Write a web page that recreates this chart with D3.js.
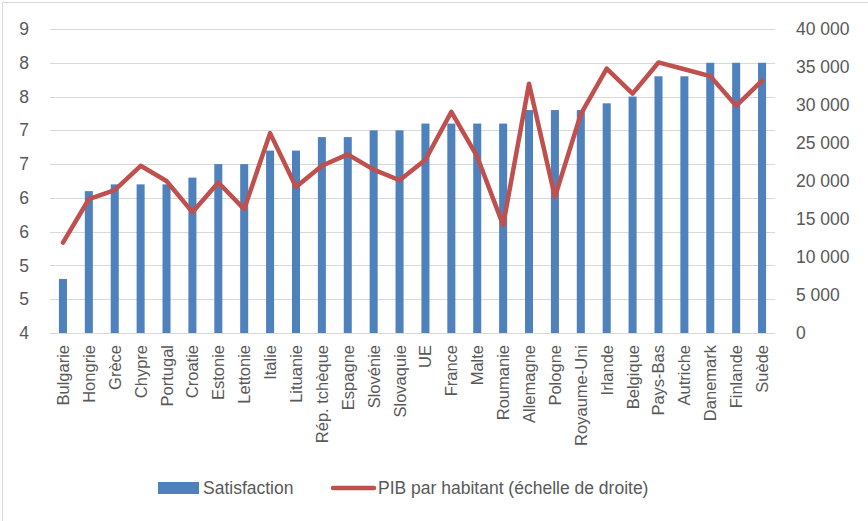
<!DOCTYPE html>
<html><head><meta charset="utf-8">
<script src="https://cdn.jsdelivr.net/npm/d3@7"></script>
<style>body{margin:0;background:#fff}svg{display:block}</style>
</head><body>
<svg id="c" width="868" height="521"></svg>
<script>
const categories = ["Bulgarie","Hongrie","Grèce","Chypre","Portugal","Croatie","Estonie","Lettonie","Italie","Lituanie","Rép. tchèque","Espagne","Slovénie","Slovaquie","UE","France","Malte","Roumanie","Allemagne","Pologne","Royaume-Uni","Irlande","Belgique","Pays-Bas","Autriche","Danemark","Finlande","Suède"];
const satisfaction = [4.8,6.1,6.2,6.2,6.2,6.3,6.5,6.5,6.7,6.7,6.9,6.9,7.0,7.0,7.1,7.1,7.1,7.1,7.3,7.3,7.3,7.4,7.5,7.8,7.8,8.0,8.0,8.0];
const pib = [11900,17600,18800,22000,20000,15900,19800,16300,26300,19200,22000,23500,21500,20100,22800,29100,23200,14200,32800,17900,28800,34800,31500,35600,34700,33800,29900,33200];
const leftTicks = [4,4.5,5,5.5,6,6.5,7,7.5,8,8.5];
const rightTicks = [0,5000,10000,15000,20000,25000,30000,35000,40000];
const seriesNames = ["Satisfaction","PIB par habitant (échelle de droite)"];

const svg = d3.select("#c");
const font = "'Liberation Sans', Arial, sans-serif";
const textCol = "#595959";
const L = 50, R = 775, T = 29, B = 333;

svg.append("rect").attr("x",2.5).attr("y",2.5).attr("width",900).attr("height",600)
  .attr("fill","none").attr("stroke","#d9d9d9").attr("stroke-width",1);

const x = d3.scaleBand().domain(categories).range([L,R]).paddingInner(0.69).paddingOuter(0.345);
const yL = d3.scaleLinear().domain([4,8.5]).range([B,T]);
const yR = d3.scaleLinear().domain([0,40000]).range([B,T]);

// gridlines
svg.append("g").selectAll("line").data(leftTicks).join("line")
  .attr("x1",L).attr("x2",R).attr("y1",d=>Math.round(yL(d))+0.5).attr("y2",d=>Math.round(yL(d))+0.5)
  .attr("stroke","#d9d9d9").attr("stroke-width",1);

// bars
svg.append("g").selectAll("rect").data(categories).join("rect")
  .attr("x",d=>x(d)).attr("width",x.bandwidth())
  .attr("y",(d,i)=>yL(satisfaction[i])).attr("height",(d,i)=>B-yL(satisfaction[i]))
  .attr("fill","#4f81bd");

// line
const line = d3.line().x((d,i)=>x(categories[i])+x.bandwidth()/2).y(d=>yR(d));
svg.append("path").datum(pib).attr("d",line).attr("fill","none")
  .attr("stroke","#c0504d").attr("stroke-width",4.5).attr("stroke-linejoin","round").attr("stroke-linecap","round");

// left axis
const fmtL = d => String(Math.floor(d+0.5));
const gL = svg.append("g").attr("transform",`translate(${L},0)`)
  .call(d3.axisLeft(yL).tickValues(leftTicks).tickFormat(fmtL).tickSize(0).tickPadding(21));
gL.select(".domain").remove();
gL.selectAll("text").attr("font-family",font).attr("font-size",17.5).attr("fill",textCol);

// right axis
const fmtR = d => d3.format(",")(d).replace(/,/g," ");
const gR = svg.append("g").attr("transform",`translate(${R},0)`)
  .call(d3.axisRight(yR).tickValues(rightTicks).tickFormat(fmtR).tickSize(0).tickPadding(21));
gR.select(".domain").remove();
gR.selectAll("text").attr("font-family",font).attr("font-size",17.5).attr("fill",textCol);

// bottom axis
const gB = svg.append("g").attr("transform",`translate(0,${B})`)
  .call(d3.axisBottom(x).tickSize(0).tickPadding(0));
gB.select(".domain").attr("stroke","#d9d9d9").attr("d",`M${L},0.5H${R}`);
gB.selectAll("text").attr("font-family",font).attr("font-size",16.5).attr("fill",textCol)
  .attr("text-anchor","end").attr("dy",null)
  .attr("transform","translate(6,12) rotate(-90)");

// legend
const lg = svg.append("g");
lg.append("rect").attr("x",158).attr("y",482).attr("width",41).attr("height",12).attr("fill","#4f81bd");
lg.append("text").attr("x",203).attr("y",494).text(seriesNames[0])
  .attr("font-family",font).attr("font-size",17.5).attr("fill",textCol);
lg.append("line").attr("x1",333).attr("x2",374).attr("y1",488).attr("y2",488)
  .attr("stroke","#c0504d").attr("stroke-width",4.5).attr("stroke-linecap","round");
lg.append("text").attr("x",378).attr("y",494).text(seriesNames[1])
  .attr("font-family",font).attr("font-size",17.5).attr("fill",textCol);
</script>
</body></html>
